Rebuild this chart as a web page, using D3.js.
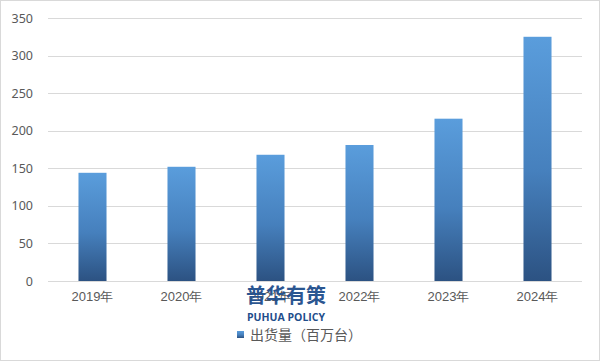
<!DOCTYPE html>
<html>
<head>
<meta charset="utf-8">
<script src="https://cdn.jsdelivr.net/npm/d3@7"></script>
<style>
	body { margin: 0; background: #fff; }
	svg { display: block; font-family: "Noto Sans CJK SC", "Noto Sans", sans-serif; }
</style>
</head>
<body>
<svg id="chart" width="600" height="361"></svg>
<script>
var years = ["2019年", "2020年", "2021年", "2022年", "2023年", "2024年"];
var shipments = [144, 152, 168, 181, 216, 325];
var yTicks = [0, 50, 100, 150, 200, 250, 300, 350];
var seriesName = "出货量（百万台）";

var svg = d3.select("#chart"),
	margin = {top: 18, right: 18, bottom: 80, left: 48},
	width = +svg.attr("width") - margin.left - margin.right,
	height = +svg.attr("height") - margin.top - margin.bottom;

// outer border
svg.append("rect")
	.attr("x", 0.5).attr("y", 0.5)
	.attr("width", 599).attr("height", 360)
	.attr("fill", "#fff")
	.attr("stroke", "#d9d9d9");

var defs = svg.append("defs");
var grad = defs.append("linearGradient")
	.attr("id", "barGrad")
	.attr("x1", 0).attr("y1", 0).attr("x2", 0).attr("y2", 1);
grad.append("stop").attr("offset", "0%").attr("stop-color", "#5a9ddc");
grad.append("stop").attr("offset", "55%").attr("stop-color", "#4680bd");
grad.append("stop").attr("offset", "100%").attr("stop-color", "#2c5282");

var g = svg.append("g").attr("transform", "translate(" + margin.left + "," + margin.top + ")");

var x = d3.scaleBand()
	.domain(years)
	.range([0, width])
	.paddingInner(0.685)
	.paddingOuter(0.3425);

var y = d3.scaleLinear()
	.domain([0, 350])
	.range([height, 0]);

// gridlines
g.append("g")
	.selectAll("line")
	.data(yTicks)
	.enter().append("line")
	.attr("x1", 0)
	.attr("x2", width)
	.attr("y1", function(d) { return Math.round(y(d)) + 0.5; })
	.attr("y2", function(d) { return Math.round(y(d)) + 0.5; })
	.attr("stroke", "#d9d9d9")
	.attr("stroke-width", 1);

// y axis labels
var yAxis = g.append("g")
	.call(d3.axisLeft(y).tickValues(yTicks).tickSize(0).tickPadding(15));
yAxis.select(".domain").remove();
yAxis.selectAll("text")
	.attr("fill", "#595959")
	.attr("font-size", 12.5)
	.style("font-family", "'Noto Sans', sans-serif");

// bars
g.append("g")
	.selectAll("rect")
	.data(shipments)
	.enter().append("rect")
	.attr("x", function(d, i) { return x(years[i]); })
	.attr("y", function(d) { return y(d); })
	.attr("width", x.bandwidth())
	.attr("height", function(d) { return height - y(d); })
	.attr("fill", "url(#barGrad)");

// x axis labels
var xAxis = g.append("g")
	.attr("transform", "translate(0," + height + ")")
	.call(d3.axisBottom(x).tickSize(0).tickPadding(11));
xAxis.select(".domain").remove();
xAxis.selectAll("text")
	.attr("fill", "#595959")
	.attr("font-size", 13);

// watermark
svg.append("text")
	.attr("x", 286)
	.attr("y", 303)
	.attr("text-anchor", "middle")
	.attr("font-size", 20)
	.attr("font-weight", "bold")
	.attr("fill", "#1f4e8c")
	.attr("opacity", 0.95)
	.text("普华有策");
svg.append("text")
	.attr("x", 286)
	.attr("y", 321)
	.attr("text-anchor", "middle")
	.attr("font-size", 10.5)
	.attr("font-weight", "bold")
	.attr("fill", "#1f4e8c")
	.style("font-family", "'Open Sans', sans-serif")
	.text("PUHUA POLICY");

// legend
var legend = svg.append("g").attr("transform", "translate(237,331)");
legend.append("rect")
	.attr("width", 7).attr("height", 7)
	.attr("fill", "url(#barGrad)");
legend.append("text")
	.attr("x", 13)
	.attr("y", 4)
	.attr("dy", "0.35em")
	.attr("font-size", 14)
	.attr("fill", "#595959")
	.text(seriesName);
</script>
</body>
</html>
